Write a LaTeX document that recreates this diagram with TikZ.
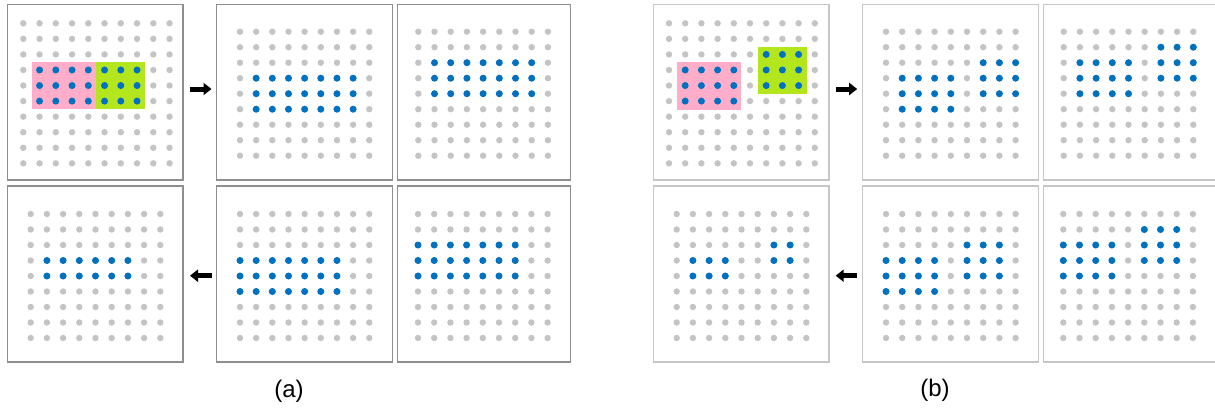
\documentclass[tikz,border=0pt]{standalone}
\usepackage{fontspec}
\setmainfont{Liberation Sans}
\usetikzlibrary{arrows.meta}
\definecolor{dotgray}{HTML}{C4C4C4}
\definecolor{dotblue}{HTML}{0070C0}
\definecolor{pinkbox}{HTML}{FFADC9}
\definecolor{limebox}{HTML}{B4E61E}
\definecolor{framea}{HTML}{8E8E8E}
\definecolor{frameb}{HTML}{C6C6C6}
\newcommand\dotgrid[5]{% x0,y0,dx,dy,n
  \pgfmathtruncatemacro\nlast{#5-1}%
  \foreach \ii in {0,...,\nlast}{\foreach \jj in {0,...,\nlast}{%
    \fill[dotgray] ({#1+\ii*#3},{#2+\jj*#4}) circle[radius=3.2pt];}}}
\newcommand\blueblock[8]{% x0,y0,dx,dy,c1,c2,r1,r2
  \foreach \ii in {#5,...,#6}{\foreach \jj in {#7,...,#8}{%
    \fill[dotblue] ({#1+\ii*#3},{#2+\jj*#4}) circle[radius=3.5pt];}}}
\tikzset{
  panela/.style={draw=framea, line width=1.1pt, fill=white},
  panelb/.style={draw=frameb, line width=1.1pt, fill=white},
  bigarrow/.style={line width=5pt, -{Triangle[length=8pt,width=12pt]}, black},
  lbl/.style={font=\fontsize{24}{28}\selectfont, inner sep=0pt}
}
\begin{document}
\begin{tikzpicture}[x=1pt,y=-1pt]
\useasboundingbox (0,0) rectangle (1215,408);
\begin{scope}
\clip (0,0) rectangle (1215,408);
% ---------------- (a) ----------------
\draw[panela] (7.3,4.3) rectangle (183,180);
\coordinate (pa1) at (95,92);
\fill[pinkbox] (31.7,62.3) rectangle (95.7,109);
\fill[limebox] (95.7,62.3) rectangle (144.7,109);
\dotgrid{23.3}{23.3}{16.25}{15.56}{10}
\blueblock{23.3}{23.3}{16.25}{15.56}{1}{7}{3}{5}

\draw[panela] (216.7,4.3) rectangle (392.3,180);
\dotgrid{240}{31.7}{16.16}{15.5}{9}
\blueblock{240}{31.7}{16.16}{15.5}{1}{7}{3}{5}

\draw[panela] (397.3,4.3) rectangle (570.7,180);
\dotgrid{418.3}{31.7}{16.2}{15.5}{9}
\blueblock{418.3}{31.7}{16.2}{15.5}{1}{7}{2}{4}

\draw[panela] (7.3,186) rectangle (183,362);
\dotgrid{30.7}{214}{16.2}{15.5}{9}
\blueblock{30.7}{214}{16.2}{15.5}{1}{6}{3}{4}

\draw[panela] (216.7,186) rectangle (392.3,362);
\dotgrid{240}{214}{16.16}{15.5}{9}
\blueblock{240}{214}{16.16}{15.5}{0}{6}{3}{5}

\draw[panela] (397.3,186) rectangle (570.7,362);
\dotgrid{418}{214}{16.2}{15.5}{9}
\blueblock{418}{214}{16.2}{15.5}{0}{6}{2}{4}

\coordinate (a1s) at (190,89);
\coordinate (a1e) at (211.5,89);
\coordinate (a2s) at (211.5,275.7);
\coordinate (a2e) at (190,275.7);
\draw[bigarrow] (a1s) -- (a1e);
\draw[bigarrow] (a2s) -- (a2e);
\node[lbl] (la) at (289,391) {(a)};

% ---------------- (b) ----------------
\draw[panelb] (653.3,4.3) rectangle (829,180);
\fill[pinkbox] (677.3,62.3) rectangle (741,109.7);
\fill[limebox] (757.7,47.3) rectangle (806.7,94);
\dotgrid{669}{23.3}{16.2}{15.56}{10}
\blueblock{669}{23.3}{16.2}{15.56}{1}{4}{3}{5}
\blueblock{669}{23.3}{16.2}{15.56}{6}{8}{2}{4}

\draw[panelb] (862.7,4.3) rectangle (1038.7,180);
\dotgrid{886}{31.7}{16.2}{15.5}{9}
\blueblock{886}{31.7}{16.2}{15.5}{1}{4}{3}{5}
\blueblock{886}{31.7}{16.2}{15.5}{6}{8}{2}{4}

\draw[panelb] (1043.3,4.3) rectangle (1220,180);
\dotgrid{1063.7}{31.7}{16.2}{15.5}{9}
\blueblock{1063.7}{31.7}{16.2}{15.5}{1}{4}{2}{4}
\blueblock{1063.7}{31.7}{16.2}{15.5}{6}{8}{1}{3}

\draw[panelb] (653.3,186) rectangle (829,362);
\dotgrid{676.7}{214}{16.2}{15.5}{9}
\blueblock{676.7}{214}{16.2}{15.5}{1}{3}{3}{4}
\blueblock{676.7}{214}{16.2}{15.5}{6}{7}{2}{3}

\draw[panelb] (862.7,186) rectangle (1038.7,362);
\dotgrid{886}{214}{16.2}{15.5}{9}
\blueblock{886}{214}{16.2}{15.5}{0}{3}{3}{5}
\blueblock{886}{214}{16.2}{15.5}{5}{7}{2}{4}

\draw[panelb] (1043.3,186) rectangle (1220,362);
\dotgrid{1063.3}{214}{16.2}{15.5}{9}
\blueblock{1063.3}{214}{16.2}{15.5}{0}{3}{2}{4}
\blueblock{1063.3}{214}{16.2}{15.5}{5}{7}{1}{3}

\coordinate (b1s) at (835.7,89);
\coordinate (b1e) at (857.2,89);
\coordinate (b2s) at (857.2,275.7);
\coordinate (b2e) at (835.7,275.7);
\draw[bigarrow] (b1s) -- (b1e);
\draw[bigarrow] (b2s) -- (b2e);
\node[lbl] (lb) at (935,390) {(b)};
\end{scope}
\end{tikzpicture}
\end{document}
